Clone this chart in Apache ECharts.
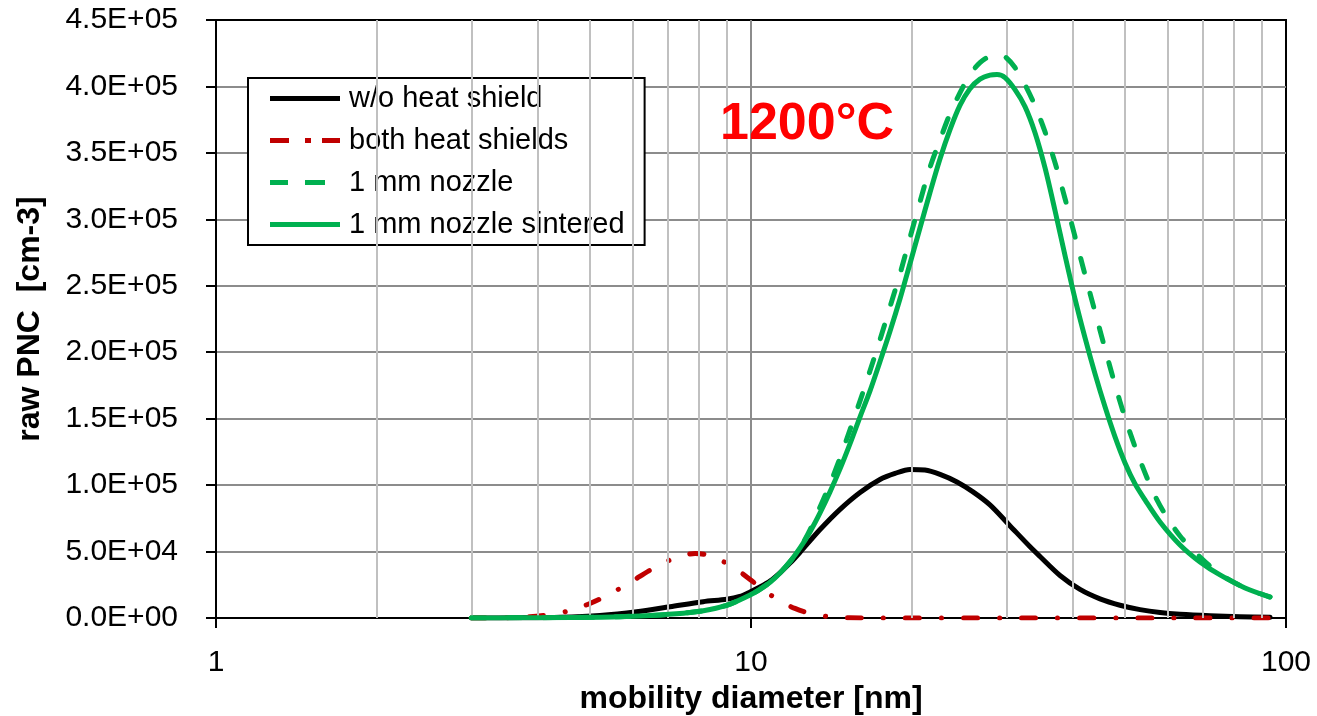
<!DOCTYPE html>
<html>
<head>
<meta charset="utf-8">
<script src="https://cdn.jsdelivr.net/npm/echarts@6/dist/echarts.min.js"></script>
<style>
html,body{margin:0;padding:0;background:#fff;}
#chart{width:1317px;height:716px;}
</style>
</head>
<body>
<div id="chart"></div>
<script>
// ---- data ----
const seriesNames = ['w/o heat shield', 'both heat shields', '1 mm nozzle', '1 mm nozzle sintered'];

const diaBlack = [3, 3.7, 4.4, 5.22, 6.11, 7.06, 8.14, 9.01, 9.53, 9.96, 10.39, 10.87, 11.33, 11.83, 12.35, 13.46, 14.67, 15.99, 17.42, 18.59, 19.82, 21.14, 22.56, 24.27, 26.0, 27.97, 30.5, 33.2, 34.69, 37.81, 41.21, 44.91, 48.95, 53.35, 58.15, 63.38, 72.1, 82.0, 93.35];
const pncBlack = [0, 100, 500, 1900, 4700, 8500, 12300, 14100, 16200, 19600, 23300, 28000, 34000, 41300, 49500, 66600, 81800, 94500, 104200, 108800, 111800, 111400, 108100, 102400, 94900, 85100, 69300, 53800, 46300, 32000, 21500, 14400, 9600, 6300, 4100, 2800, 1700, 1000, 500];

const diaRed = [3, 3.4, 3.86, 4.21, 4.59, 5.0, 5.45, 5.94, 6.48, 7.06, 7.53, 7.86, 8.2, 8.75, 9.34, 9.96, 10.62, 11.33, 12.08, 12.89, 14.05, 15.31, 17.42, 30, 60, 95.8];
const pncRed = [0, 100, 900, 2600, 5600, 10900, 18100, 26700, 36100, 43700, 47400, 48600, 47800, 43700, 37300, 29000, 20300, 12800, 7200, 3400, 900, 150, 0, 0, 0, 0];

const diaNozzle = [3, 3.7, 4.59, 5.69, 6.76, 7.69, 8.38, 9.14, 9.96, 10.39, 10.87, 11.33, 11.83, 12.35, 12.89, 13.46, 14.05, 14.67, 15.31, 15.99, 16.69, 17.42, 18.19, 18.99, 19.82, 20.70, 21.60, 22.56, 23.55, 24.59, 25.66, 26.79, 27.97, 28.95, 29.84, 31.15, 32.52, 33.95, 35.44, 37.01, 38.64, 40.33, 42.11, 43.96, 45.89, 47.91, 50.02, 52.22, 54.51, 56.90, 59.40, 63.38, 69.07, 75.27, 83.85, 93.35];
const pncNozzle = [0, 150, 400, 1000, 2300, 4100, 6400, 10500, 17300, 21600, 27100, 33900, 42400, 52700, 66300, 83600, 100900, 120500, 141600, 163400, 186000, 209300, 234200, 259000, 286100, 313300, 338900, 359900, 379500, 395300, 408900, 417900, 422800, 423900, 422400, 414200, 401400, 385500, 366000, 342600, 315500, 286900, 258300, 230400, 202600, 175500, 150600, 128800, 109200, 91900, 78300, 61700, 45900, 33100, 22600, 15800];

const diaSinter = [3, 3.7, 4.59, 5.69, 6.76, 7.69, 8.38, 9.14, 9.96, 10.39, 10.87, 11.33, 11.83, 12.35, 12.89, 13.46, 14.05, 14.67, 15.31, 15.99, 16.69, 17.42, 18.19, 18.99, 19.82, 20.70, 21.60, 22.56, 23.55, 24.59, 25.66, 26.79, 27.97, 28.83, 29.84, 31.15, 32.52, 33.95, 35.44, 37.01, 38.64, 40.33, 42.11, 43.96, 45.89, 47.91, 50.02, 52.22, 54.51, 58.15, 63.38, 69.07, 75.27, 83.85, 93.35];
const pncSinter = [0, 150, 400, 1000, 2300, 4100, 6400, 10500, 17300, 21600, 27100, 33900, 42400, 52700, 64800, 79100, 94900, 112200, 131000, 151400, 170900, 192800, 215700, 240200, 266600, 293700, 320000, 345600, 367500, 385900, 398300, 405500, 408500, 408900, 406600, 397600, 384800, 365200, 338900, 306500, 272600, 240200, 210800, 183700, 158900, 136300, 116700, 100900, 88900, 72300, 55000, 42200, 32400, 22600, 15800];

const xTicks = [1, 10, 100];
const minorGrid = [2, 3, 4, 5, 6, 7, 8, 9, 20, 30, 40, 50, 60, 70, 80, 90];
const yMin = 0, yMax = 450000, yStep = 50000;
const annotation = '1200°C';

// ---- chart ----
const FONT = "'Liberation Sans', Arial, sans-serif";
function zip(a, b) { return a.map((d, i) => [d, b[i]]); }
function sci(v) {
  if (v === 0) return '0.0E+00';
  const e = Math.floor(Math.log10(v) + 1e-9);
  const m = v / Math.pow(10, e);
  return m.toFixed(1) + 'E' + (e < 0 ? '-' : '+') + String(Math.abs(e)).padStart(2, '0');
}
const baseLine = { width: 5, cap: 'round', join: 'round' };
// legend line samples (70 x 5 boxes)
const ICON_SOLID = 'path://M0,0H70V5H0Z';
const ICON_DASHDOT = 'path://M0,0H19V5H0Z M35,0H41V5H35Z M52,0H70V5H52Z';
const ICON_DASH = 'path://M0,0H18V5H0Z M35,0H55V5H35Z M69.99,2.49H70V2.5H69.99Z';

const chart = echarts.init(document.getElementById('chart'), null, { renderer: 'canvas' });
chart.setOption({
  animation: false,
  backgroundColor: '#ffffff',
  textStyle: { fontFamily: FONT },
  grid: { left: 216, right: 31, top: 20, bottom: 98, outerBoundsMode: 'none', containLabel: false, show: true, borderColor: '#000', borderWidth: 2, backgroundColor: 'transparent' },
  title: {
    text: annotation, left: 720, top: 99, padding: 0,
    textStyle: { fontSize: 52, fontWeight: 'bold', color: '#ff0000', fontFamily: FONT }
  },
  legend: {
    orient: 'vertical', left: 248, top: 78,
    padding: [6, 20, 6, 22], itemGap: 13, itemWidth: 70, itemHeight: 5,
    backgroundColor: '#ffffff', borderColor: '#000', borderWidth: 2, borderRadius: 0,
    textStyle: { fontSize: 29, color: '#000', fontFamily: FONT, padding: [0, 0, 0, 4] },
    data: [
      { name: seriesNames[0], icon: ICON_SOLID },
      { name: seriesNames[1], icon: ICON_DASHDOT },
      { name: seriesNames[2], icon: ICON_DASH },
      { name: seriesNames[3], icon: ICON_SOLID }
    ]
  },
  xAxis: {
    type: 'log', logBase: 10, min: xTicks[0], max: xTicks[xTicks.length - 1],
    name: 'mobility diameter [nm]', nameLocation: 'middle', nameGap: 62,
    nameTextStyle: { fontSize: 32, fontWeight: 'bold', color: '#000', fontFamily: FONT },
    axisLine: { show: true, onZero: false, lineStyle: { color: '#000', width: 2 } },
    axisTick: { show: true, inside: false, length: 10, lineStyle: { color: '#000', width: 2 } },
    axisLabel: { fontSize: 30, color: '#000', margin: 30, fontFamily: FONT, formatter: v => String(v) },
    splitLine: { show: true, showMinLine: false, showMaxLine: false, lineStyle: { color: '#8c8c8c', width: 2 } },
    minorTick: { show: false }, minorSplitLine: { show: false }
  },
  yAxis: {
    type: 'value', min: yMin, max: yMax, interval: yStep,
    name: 'raw PNC  [cm-3]', nameLocation: 'middle', nameGap: 170,
    nameTextStyle: { fontSize: 32, fontWeight: 'bold', color: '#000', fontFamily: FONT },
    axisLine: { show: true, lineStyle: { color: '#000', width: 2 } },
    axisTick: { show: true, inside: false, length: 10, lineStyle: { color: '#000', width: 2 } },
    axisLabel: { fontSize: 30, color: '#000', margin: 38, fontFamily: FONT, formatter: sci },
    splitLine: { show: true, showMinLine: false, showMaxLine: false, lineStyle: { color: '#8c8c8c', width: 2 } }
  },
  series: [
    {
      type: 'line', data: [], silent: true, z: 1,
      markLine: {
        silent: true, symbol: ['none', 'none'], label: { show: false },
        lineStyle: { color: '#c0c0c0', width: 2, type: 'solid' },
        emphasis: { disabled: true },
        data: minorGrid.map(v => ({ xAxis: v }))
      }
    },
    {
      name: seriesNames[0], type: 'line', data: zip(diaBlack, pncBlack), z: 3,
      symbol: 'none', showSymbol: false, smooth: 0.3, color: '#000000',
      lineStyle: Object.assign({ color: '#000000', type: 'solid' }, baseLine)
    },
    {
      name: seriesNames[1], type: 'line', data: zip(diaRed, pncRed), z: 4,
      symbol: 'none', showSymbol: false, smooth: 0.3, color: '#c00000',
      lineStyle: Object.assign({ color: '#c00000', type: [14, 22, 0.1, 22] }, baseLine)
    },
    {
      name: seriesNames[2], type: 'line', data: zip(diaNozzle, pncNozzle), z: 5,
      symbol: 'none', showSymbol: false, smooth: 0.3, color: '#00b050',
      lineStyle: Object.assign({ color: '#00b050', type: [14, 22] }, baseLine)
    },
    {
      name: seriesNames[3], type: 'line', data: zip(diaSinter, pncSinter), z: 6,
      symbol: 'none', showSymbol: false, smooth: 0.3, color: '#00b050',
      lineStyle: Object.assign({ color: '#00b050', type: 'solid' }, baseLine)
    }
  ]
});
</script>
</body>
</html>
